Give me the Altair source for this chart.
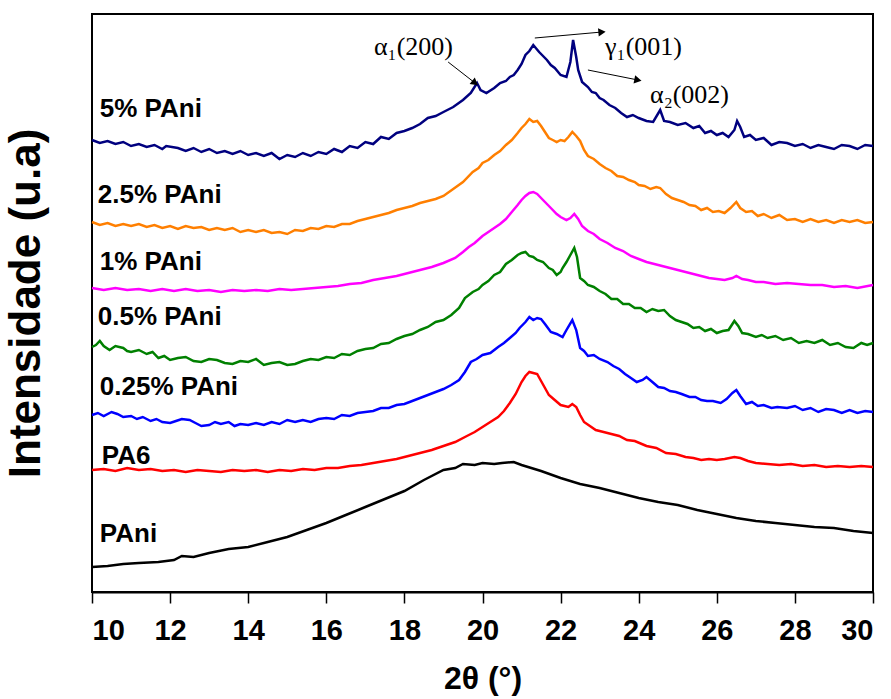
import altair as alt
import pandas as pd

# ---- data (intensity in arbitrary units, curves stacked with offsets) ----
x_5 = [10.0,10.2,10.4,10.6,10.8,11.0,11.2,11.4,11.6,11.8,11.9,12.2,12.4,12.6,12.8,13.0,13.2,13.4,13.6,13.8,
       14.0,14.2,14.4,14.6,14.8,15.0,15.2,15.4,15.6,15.8,16.0,16.2,16.4,16.6,16.8,17.0,17.2,17.4,17.6,17.8,
       18.0,18.2,18.4,18.6,18.8,19.0,19.25,19.5,19.7,19.86,19.95,20.1,20.3,20.45,20.6,20.7,20.8,20.9,21.0,21.1,
       21.2,21.3,21.45,21.55,21.65,21.75,21.85,22.0,22.15,22.25,22.32,22.4,22.45,22.55,22.7,22.8,22.9,23.0,23.1,23.25,
       23.4,23.55,23.7,23.85,24.0,24.2,24.37,24.55,24.65,24.8,25.0,25.2,25.4,25.55,25.7,25.85,26.0,26.15,26.3,26.45,
       26.52,26.6,26.7,26.85,27.0,27.2,27.4,27.6,27.8,28.0,28.2,28.4,28.6,28.8,29.0,29.2,29.4,29.6,29.8,30.0]
y_5 = [452,449,451,448,450,446,448,445,447,443,446,444,441,444,440,443,439,441,438,441,
       437,439,436,439,433,437,435,439,436,440,438,443,440,446,444,450,448,455,453,459,
       461,464,468,474,476,480,485,492,499,509,502,499,504,509,511,515,517,522,528,537,
       541,547,540,536,532,527,524,517,515,530,552,535,522,510,505,500,499,494,492,487,
       484,479,475,477,474,471,470,482,471,470,467,469,464,466,459,461,457,459,455,462,
       471,465,455,457,452,454,447,450,449,446,448,444,447,445,443,447,446,443,447,446]

x_25 = [10.0,10.2,10.4,10.6,10.8,11.0,11.2,11.4,11.6,11.8,12.0,12.2,12.4,12.6,12.8,13.0,13.2,13.4,13.6,13.8,
        14.0,14.2,14.4,14.6,14.8,15.0,15.2,15.4,15.6,15.8,16.0,16.2,16.4,16.6,16.8,17.0,17.2,17.4,17.6,17.8,
        18.0,18.2,18.4,18.6,18.8,19.0,19.25,19.5,19.75,19.9,20.0,20.15,20.3,20.45,20.6,20.75,20.9,21.0,21.1,21.2,
        21.3,21.4,21.5,21.6,21.7,21.8,21.9,22.0,22.1,22.2,22.3,22.4,22.5,22.6,22.7,22.85,23.0,23.15,23.3,23.45,
        23.6,23.75,23.9,24.0,24.15,24.3,24.45,24.55,24.7,24.85,25.0,25.15,25.3,25.45,25.6,25.75,25.9,26.05,26.2,26.35,
        26.5,26.6,26.75,26.9,27.05,27.2,27.4,27.6,27.8,28.0,28.2,28.4,28.6,28.8,29.0,29.2,29.4,29.6,29.8,30.0]
y_25 = [370,367,369,366,368,366,368,365,367,364,366,363,366,364,365,362,364,362,364,360,
        362,360,362,359,360,358,362,361,364,363,366,365,368,368,371,373,375,377,379,382,
        384,386,389,391,393,396,403,410,420,424,429,432,437,441,447,452,459,464,468,473,
        470,471,466,460,454,452,450,452,451,455,460,456,451,442,436,433,428,424,421,416,
        415,412,410,407,406,403,405,404,398,394,392,390,387,386,382,384,380,381,379,384,
        390,384,380,381,376,378,374,377,372,373,370,373,370,372,369,372,370,372,369,370]

x_1 = [10.0,10.3,10.6,10.9,11.2,11.5,11.8,12.1,12.4,12.7,13.0,13.3,13.6,13.9,14.2,14.5,14.8,15.1,15.4,15.7,
       16.0,16.3,16.6,16.9,17.2,17.5,17.8,18.1,18.4,18.7,19.0,19.3,19.5,19.65,19.8,20.0,20.15,20.3,20.45,20.6,
       20.75,20.9,21.0,21.1,21.2,21.3,21.4,21.5,21.6,21.75,21.9,22.0,22.15,22.25,22.35,22.45,22.55,22.7,22.85,23.0,
       23.2,23.4,23.6,23.8,24.0,24.2,24.4,24.6,24.8,25.0,25.2,25.4,25.6,25.8,26.0,26.2,26.4,26.5,26.65,26.8,
       27.0,27.2,27.5,27.8,28.1,28.4,28.7,29.0,29.3,29.6,30.0]
y_1 = [304,302,304,302,303,301,303,301,303,301,302,300,302,301,302,301,303,302,303,304,
       305,306,308,309,312,314,316,319,322,325,329,334,340,345,349,356,360,364,368,373,
       380,387,392,396,399,400,398,394,390,384,378,375,372,374,378,373,366,361,358,353,
       349,344,341,336,333,330,328,326,324,322,320,318,316,314,313,312,314,316,313,312,
       310,310,308,309,308,307,307,305,306,304,307]

x_05 = [10.0,10.1,10.2,10.3,10.45,10.6,10.8,10.9,11.0,11.2,11.4,11.55,11.7,11.85,12.0,12.2,12.4,12.6,12.8,13.0,
        13.2,13.4,13.6,13.8,14.0,14.2,14.4,14.6,14.8,15.0,15.2,15.4,15.6,15.8,16.0,16.2,16.4,16.6,16.8,17.0,
        17.2,17.4,17.6,17.8,18.0,18.2,18.4,18.6,18.8,19.0,19.2,19.4,19.55,19.75,19.9,20.0,20.15,20.3,20.45,20.6,
        20.75,20.9,21.0,21.1,21.2,21.3,21.4,21.55,21.7,21.8,21.9,22.0,22.05,22.15,22.25,22.35,22.42,22.5,22.6,22.7,
        22.85,23.0,23.15,23.3,23.45,23.6,23.75,23.9,24.05,24.2,24.35,24.5,24.65,24.8,24.95,25.1,25.25,25.4,25.55,25.7,
        25.85,26.0,26.15,26.3,26.45,26.55,26.65,26.8,27.0,27.15,27.3,27.5,27.7,27.9,28.1,28.3,28.5,28.7,28.9,29.1,
        29.3,29.5,29.7,29.85,30.0]
y_05 = [245,247,251,246,242,246,244,241,240,242,238,240,234,236,232,234,235,231,230,233,
        232,229,228,231,230,233,227,229,230,227,228,231,233,232,235,234,238,237,241,243,
        244,248,249,253,256,258,262,265,270,272,277,284,294,300,303,307,311,317,320,328,
        332,337,339,340,336,335,332,330,324,322,317,320,324,330,337,344,335,314,311,307,
        305,301,298,293,293,288,288,284,284,280,283,281,282,276,272,270,268,264,265,261,
        263,259,261,262,271,266,259,258,255,257,254,256,252,254,249,251,249,252,247,249,
        245,244,249,247,249]

x_025 = [10.0,10.15,10.3,10.5,10.65,10.8,11.0,11.15,11.3,11.5,11.65,11.8,12.0,12.15,12.3,12.5,12.65,12.8,13.0,13.15,
         13.3,13.5,13.65,13.8,14.0,14.2,14.4,14.6,14.8,15.0,15.2,15.4,15.6,15.8,16.0,16.2,16.4,16.6,16.8,17.0,
         17.2,17.4,17.6,17.8,18.0,18.2,18.4,18.6,18.8,19.0,19.2,19.4,19.55,19.7,19.85,20.0,20.2,20.4,20.55,20.7,
         20.85,20.95,21.1,21.2,21.3,21.4,21.5,21.6,21.75,21.9,22.05,22.15,22.3,22.4,22.5,22.6,22.7,22.85,23.0,23.2,
         23.35,23.5,23.65,23.8,23.95,24.1,24.2,24.35,24.5,24.65,24.8,24.95,25.1,25.3,25.45,25.6,25.75,25.9,26.1,26.25,
         26.4,26.5,26.6,26.75,26.9,27.05,27.2,27.4,27.55,27.8,28.0,28.2,28.4,28.6,28.8,29.0,29.2,29.4,29.6,29.8,
         30.0]
y_025 = [177,179,176,180,178,175,176,173,175,171,173,170,169,171,173,172,169,166,167,170,
         168,170,166,168,167,169,167,170,168,172,170,172,170,173,174,173,177,176,179,180,
         181,184,184,187,188,191,194,197,200,203,207,212,220,230,233,237,239,245,249,254,
         259,264,270,275,272,274,273,268,260,258,255,262,272,262,244,241,236,237,233,230,
         226,223,218,214,210,212,215,210,205,204,201,200,198,195,195,192,191,191,189,193,
         199,202,196,188,190,186,187,184,185,184,186,182,184,180,183,182,179,182,179,181,
         180]

x_pa6 = [10.0,10.3,10.6,10.9,11.2,11.5,11.8,12.1,12.4,12.7,13.0,13.3,13.6,13.9,14.2,14.5,14.8,15.1,15.4,15.7,
         16.0,16.3,16.6,16.9,17.2,17.5,17.8,18.1,18.4,18.7,19.0,19.3,19.6,19.8,20.0,20.2,20.4,20.55,20.7,20.85,
         21.0,21.1,21.2,21.3,21.4,21.5,21.6,21.7,21.85,22.0,22.1,22.2,22.3,22.4,22.5,22.6,22.75,22.9,23.1,23.3,
         23.5,23.7,23.9,24.2,24.45,24.7,24.95,25.2,25.4,25.6,25.8,26.0,26.2,26.45,26.6,26.8,27.0,27.3,27.6,27.9,
         28.2,28.5,28.8,29.1,29.4,29.7,30.0]
y_pa6 = [122,123,121,124,122,123,121,122,120,122,121,120,122,121,122,120,122,121,123,122,
         124,124,126,127,129,131,133,136,139,142,146,150,156,160,165,170,175,181,189,198,
         210,216,220,219,218,211,204,197,192,187,186,185,188,185,177,170,166,162,160,158,
         156,152,151,146,144,139,138,135,134,132,133,132,133,135,134,131,129,128,127,128,
         126,127,125,126,125,126,125]

x_pani = [10.0,10.4,10.8,11.2,11.7,12.1,12.3,12.6,13.0,13.5,14.0,14.5,15.0,15.5,16.0,16.5,17.0,17.5,18.0,18.5,
          19.0,19.3,19.5,19.8,20.0,20.3,20.5,20.8,21.0,21.5,22.0,22.5,23.0,23.5,24.0,24.5,25.0,25.5,26.0,26.5,
          27.0,27.5,28.0,28.5,29.0,29.5,30.0]
y_pani = [25,26,28,29,30,32,36,35,39,43,45,50,55,62,69,77,85,93,101,112,
          122,124,128,127,129,128,129,130,127,121,114,108,104,99,94,90,87,82,78,74,
          71,69,67,65,64,61,59]

series_names = ["5% PAni", "2.5% PAni", "1% PAni", "0.5% PAni", "0.25% PAni", "PA6", "PAni"]
series_colors = ["#00007f", "#ff7f00", "#ff00ff", "#008000", "#0000ff", "#ff0000", "#000000"]
series_x = [x_5, x_25, x_1, x_05, x_025, x_pa6, x_pani]
series_y = [y_5, y_25, y_1, y_05, y_025, y_pa6, y_pani]

# series label positions (data coords)
label_x = [10.2, 10.15, 10.2, 10.15, 10.2, 10.25, 10.2]
label_y = [483, 397, 330, 275, 205, 136, 58]

# peak annotations
ann_text = ["α₁(200)", "γ₁(001)", "α₂(002)"]
ann_x = [17.22, 23.14, 24.29]
ann_y = [545, 545, 497]

arrow_x = [19.12, 21.34, 22.70]
arrow_y = [530, 554, 522]
arrow_x2 = [19.81, 23.06, 23.98]
arrow_y2 = [509, 560, 512]
arrow_angle = [38, 355, 11]

x_all_ticks = list(range(10, 31))

# ---- build tables ----
rows = []
for name, xs, ys in zip(series_names, series_x, series_y):
    for i, (xv, yv) in enumerate(zip(xs, ys)):
        rows.append({"theta": xv, "I": yv, "serie": name, "order": i})
df = pd.DataFrame(rows)

labels_df = pd.DataFrame({"x": label_x, "y": label_y, "t": series_names})
ann_df = pd.DataFrame({"x": ann_x, "y": ann_y, "t": ann_text})
arr_df = pd.DataFrame({"x": arrow_x, "y": arrow_y, "x2": arrow_x2, "y2": arrow_y2, "a": arrow_angle})

xscale = alt.Scale(domain=[10, 30], nice=False, zero=False)
yscale = alt.Scale(domain=[0, 578], nice=False, zero=False)

xaxis = alt.Axis(
    values=x_all_ticks,
    labelExpr="datum.value % 2 == 0 ? datum.label : ''",
    tickSize={"condition": {"test": "datum.value % 2 != 0", "value": 6}, "value": 11},
    tickColor="black", tickWidth=1.5, domainColor="black", domainWidth=2,
    labelFont="Liberation Sans Narrow, Liberation Sans, Arial", labelFontWeight="bold", labelFontSize=29,
    labelColor="black", labelPadding=13, grid=False,
    title="2θ (°)", titleFont="Liberation Sans, Arial", titleFontWeight="bold", titleFontSize=32,
    titleColor="black", titlePadding=18,
)
yaxis = alt.Axis(
    labels=False, ticks=False, domain=False, grid=False,
    title="Intensidade (u.a)", titleFont="Liberation Sans, Arial", titleFontWeight="bold",
    titleFontSize=44, titleColor="black", titlePadding=44,
)

lines = alt.Chart(df).mark_line(strokeWidth=2.5).encode(
    x=alt.X("theta:Q", scale=xscale, axis=xaxis),
    y=alt.Y("I:Q", scale=yscale, axis=yaxis),
    color=alt.Color("serie:N", scale=alt.Scale(domain=series_names, range=series_colors), legend=None),
    detail="serie:N",
    order="order:Q",
)

labels = alt.Chart(labels_df).mark_text(
    align="left", baseline="middle", font="Liberation Sans, Arial", fontWeight="bold",
    fontSize=26, color="black"
).encode(x=alt.X("x:Q", scale=xscale), y=alt.Y("y:Q", scale=yscale), text="t:N")

ann = alt.Chart(ann_df).mark_text(
    align="left", baseline="middle", font="Liberation Serif, Times New Roman", fontSize=26, color="black"
).encode(x=alt.X("x:Q", scale=xscale), y=alt.Y("y:Q", scale=yscale), text="t:N")

shafts = alt.Chart(arr_df).mark_rule(color="black", strokeWidth=1).encode(
    x=alt.X("x:Q", scale=xscale), y=alt.Y("y:Q", scale=yscale), x2="x2:Q", y2="y2:Q"
)
heads = alt.Chart(arr_df).mark_point(
    shape="triangle-right", filled=True, color="black", size=70, opacity=1
).encode(
    x=alt.X("x2:Q", scale=xscale), y=alt.Y("y2:Q", scale=yscale), angle=alt.Angle("a:Q", scale=None)
)

chart = alt.layer(lines, labels, ann, shafts, heads).properties(
    width=781, height=578,
    autosize=alt.AutoSizeParams(type="none"),
    padding={"left": 92, "top": 14, "right": 18, "bottom": 107},
    background="white",
).configure_view(stroke="black", strokeWidth=2)

chart.save("out.html", embed_options={"renderer": "svg", "actions": False})
